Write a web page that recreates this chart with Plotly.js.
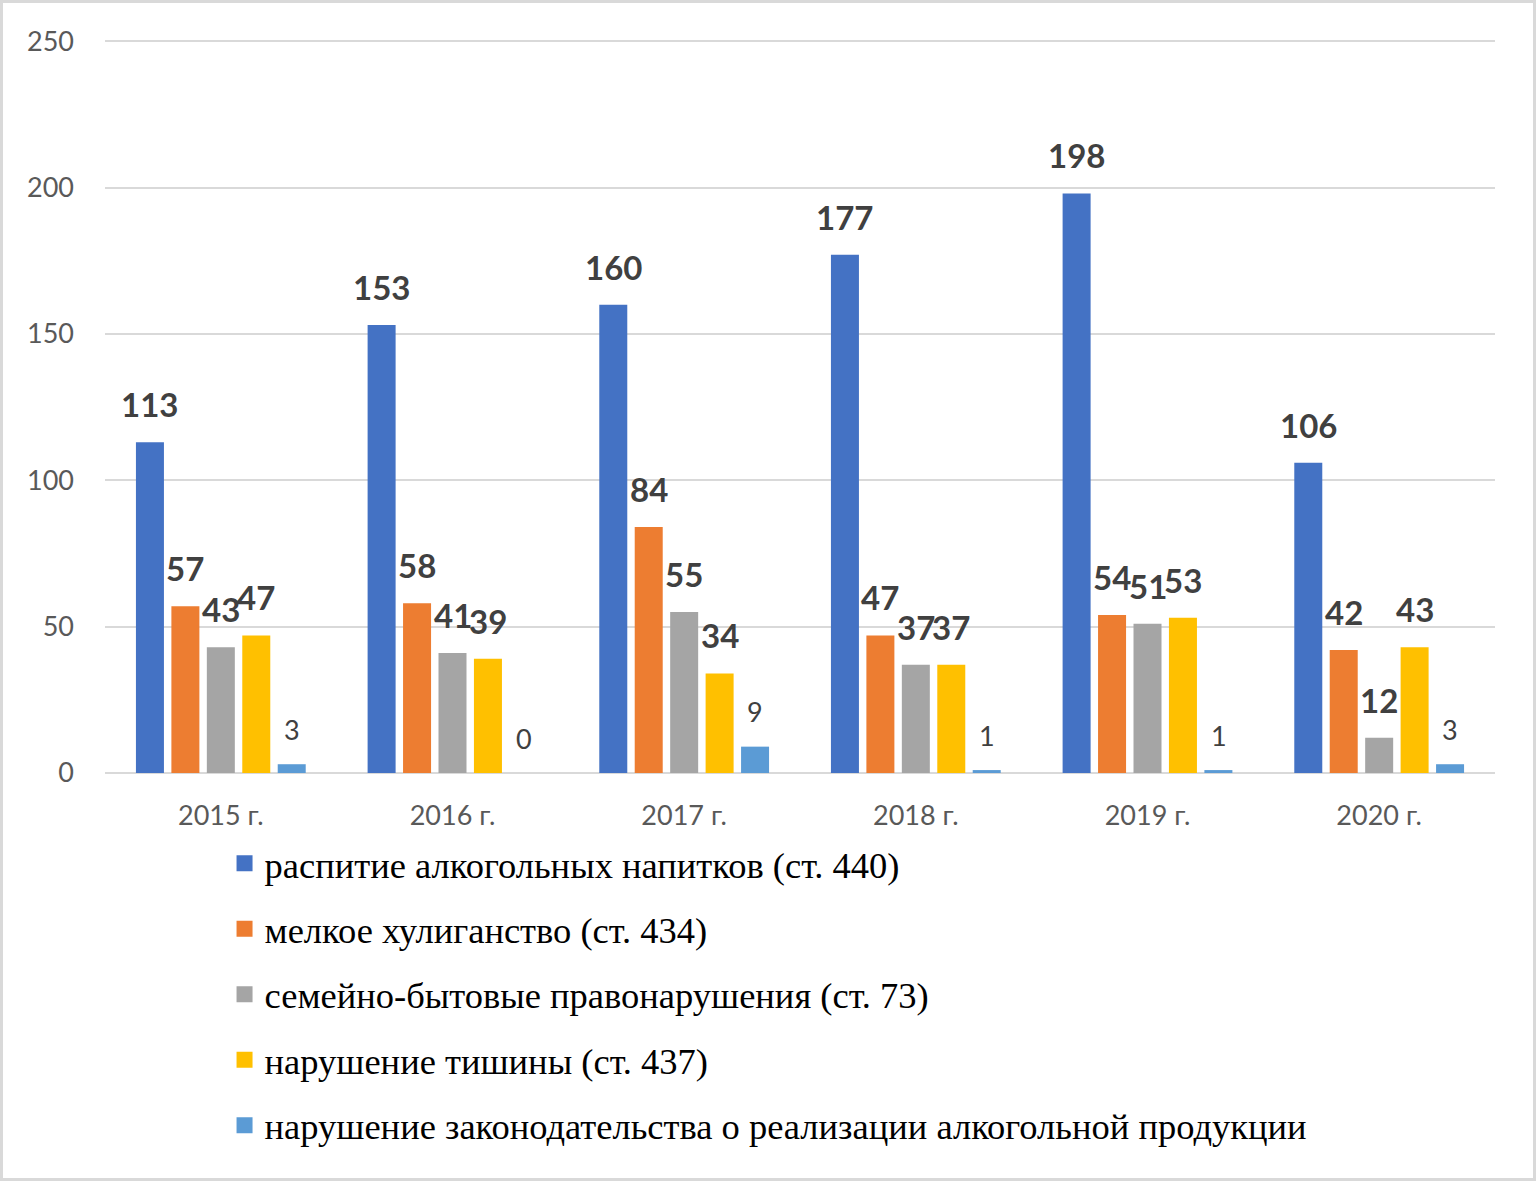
<!DOCTYPE html>
<html>
<head>
<meta charset="utf-8">
<script src="https://cdn.plot.ly/plotly-3.0.1.min.js"></script>
<style>
html,body{margin:0;padding:0;background:#fff;}
#wrap{position:relative;width:1536px;height:1181px;}
#chart{position:absolute;left:0;top:0;width:1536px;height:1181px;}
#frame{position:absolute;left:0;top:0;width:1536px;height:1181px;box-sizing:border-box;border:3px solid #d9d9d9;pointer-events:none;}
</style>
</head>
<body>
<div id="wrap"><div id="chart"></div><div id="frame"></div></div>
<script>
const years = ["2015 г.", "2016 г.", "2017 г.", "2018 г.", "2019 г.", "2020 г."];
const seriesNames = [
  "распитие алкогольных напитков (ст. 440)",
  "мелкое хулиганство (ст. 434)",
  "семейно-бытовые правонарушения (ст. 73)",
  "нарушение тишины (ст. 437)",
  "нарушение законодательства о реализации алкогольной продукции"
];
const drinking = [113, 153, 160, 177, 198, 106];
const hooliganism = [57, 58, 84, 47, 54, 42];
const domestic = [43, 41, 55, 37, 51, 12];
const noise = [47, 39, 34, 37, 53, 43];
const alcoholSales = [3, 0, 9, 1, 1, 3];
const colors = ["#4472C4", "#ED7D31", "#A5A5A5", "#FFC000", "#5B9BD5"];

const allSeries = [drinking, hooliganism, domestic, noise, alcoholSales];
const traces = [];
const annotations = [];
const barStep = 35.5;
allSeries.forEach((vals, k) => {
  traces.push({
    type: "bar", x: years, y: vals, name: seriesNames[k],
    marker: {color: colors[k]}, showlegend: false, hoverinfo: "y"
  });
  vals.forEach((v, i) => {
    const isBold = k < 4;
    annotations.push({
      x: years[i], y: v, xref: "x", yref: "y",
      text: isBold ? "<b>" + v + "</b>" : String(v),
      showarrow: false, xanchor: "center", yanchor: "middle",
      xshift: (k - 2) * barStep, yshift: isBold ? 38 : 35,
      font: {family: "Lato, 'Open Sans', sans-serif", size: isBold ? 33 : 27, color: "#404040"}
    });
  });
});
// legend entries
allSeries.forEach((vals, k) => {
  traces.push({
    type: "scatter", mode: "markers", x: [null], y: [null], name: seriesNames[k],
    marker: {symbol: "square", size: 18, color: colors[k]},
    legendgroup: "g" + k, showlegend: true, hoverinfo: "skip"
  });
});

const layout = {
  width: 1536, height: 1181,
  paper_bgcolor: "#ffffff", plot_bgcolor: "#ffffff",
  margin: {l: 105, r: 41, t: 40, b: 408},
  barmode: "group", bargap: 0.235, bargroupgap: 0.21,
  font: {family: "Lato, 'Open Sans', sans-serif", color: "#595959"},
  xaxis: {
    type: "category", showgrid: false, zeroline: false, showline: false,
    ticks: "", ticklabelstandoff: 24,
    tickfont: {size: 27, color: "#595959"}
  },
  yaxis: {
    range: [0, 250.4], tickvals: [0, 50, 100, 150, 200, 250], showgrid: true, gridcolor: "#d9d9d9", gridwidth: 2,
    zeroline: true, zerolinecolor: "#d9d9d9", zerolinewidth: 2, showline: false,
    ticks: "", ticklabelstandoff: 30,
    tickfont: {size: 27, color: "#595959"}
  },
  legend: {
    orientation: "v", x: 0.086, xanchor: "left", y: -0.082, yanchor: "top",
    font: {family: "'Liberation Serif', 'Times New Roman', serif", size: 36.5, color: "#000000"},
    traceorder: "grouped", tracegroupgap: 15, itemclick: false,
    bgcolor: "rgba(0,0,0,0)"
  },
  annotations: annotations,
  showlegend: true
};
Plotly.newPlot("chart", traces, layout, {displayModeBar: false, staticPlot: true});
</script>
</body>
</html>
